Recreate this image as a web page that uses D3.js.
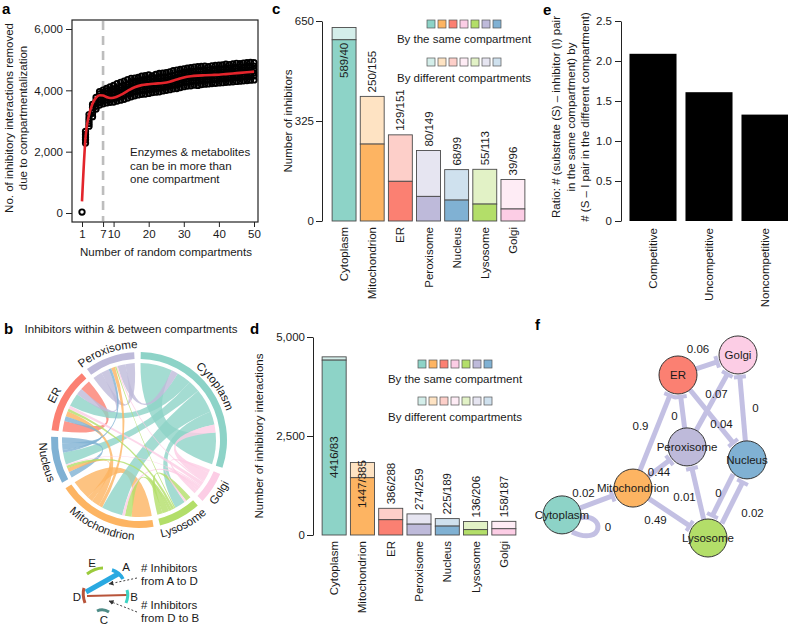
<!DOCTYPE html>
<html><head><meta charset="utf-8">
<script src="https://cdn.jsdelivr.net/npm/d3@7"></script>
<style>
body{margin:0;background:#fff;}
svg{display:block;font-family:"Liberation Sans",Arial,Helvetica,sans-serif;}
</style></head><body>
<svg id="fig" width="788" height="626"></svg>
<script>
// ================= DATA =================
const compartments = ["Cytoplasm","Mitochondrion","ER","Peroxisome","Nucleus","Lysosome","Golgi"];
const compColors = {Cytoplasm:"#8DD3C7", Mitochondrion:"#FDB462", ER:"#FB8072", Peroxisome:"#BEBADA",
                    Nucleus:"#80B1D3", Lysosome:"#B3DE69", Golgi:"#FCCDE5"};
const legendOrder = ["Cytoplasm","Mitochondrion","ER","Golgi","Lysosome","Peroxisome","Nucleus"];

// panel a
const randomCompartments = [1,2,3,4,5,6,7,8,9,10,11,12,13,14,15,16,17,18,19,20,21,22,23,24,25,
                            26,27,28,29,30,31,32,33,34,35,36,37,38,39,40,41,42,43,44,45,46,47,48,49,50];
const removedInteractions = [
 [30],
 [2280,2390,2470,2560,2660],
 [2830,2920,3010,3100,3210],
 [3140,3250,3350,3440,3540],
 [3390,3480,3570,3660,3770],
 [3520,3610,3700,3790,3880,3960],
 [3560,3660,3750,3840,3930,4010],
 [3590,3690,3790,3880,3980,4060],
 [3610,3720,3820,3910,4010,4110],
 [3620,3740,3840,3940,4050,4160],
 [3650,3770,3870,3970,4080,4220],
 [3680,3800,3900,4010,4120,4260],
 [3710,3840,3950,4050,4160,4300],
 [3750,3880,3990,4100,4210,4350],
 [3790,3910,4030,4140,4250,4390],
 [3820,3950,4060,4170,4280,4400],
 [3850,3980,4090,4200,4310,4420],
 [3870,4000,4110,4220,4330,4460],
 [3880,4010,4130,4240,4350,4480],
 [3900,4030,4150,4260,4370,4500],
 [3930,4050,4160,4270,4380,4470],
 [3940,4060,4170,4280,4400,4520],
 [3950,4080,4190,4290,4410,4550],
 [3980,4100,4200,4310,4420,4560],
 [4000,4120,4230,4330,4440,4580],
 [4020,4140,4250,4350,4460,4600],
 [4050,4170,4280,4380,4490,4640],
 [4060,4190,4300,4410,4520,4660],
 [4090,4220,4330,4440,4550,4680],
 [4120,4250,4360,4470,4580,4700],
 [4140,4270,4380,4490,4600,4720],
 [4150,4290,4400,4500,4610,4740],
 [4170,4300,4410,4510,4620,4760],
 [4160,4310,4420,4520,4630,4770],
 [4190,4320,4430,4530,4640,4780],
 [4200,4330,4440,4540,4650,4790],
 [4210,4340,4450,4550,4660,4770],
 [4220,4350,4460,4560,4670,4800],
 [4230,4360,4470,4570,4680,4810],
 [4240,4370,4470,4580,4690,4820],
 [4250,4380,4480,4590,4700,4830],
 [4260,4390,4490,4600,4710,4850],
 [4270,4400,4500,4610,4720,4840],
 [4280,4410,4510,4620,4730,4860],
 [4290,4420,4520,4630,4740,4880],
 [4300,4430,4530,4640,4750,4870],
 [4310,4440,4540,4650,4760,4890],
 [4320,4450,4550,4660,4770,4900],
 [4330,4460,4560,4670,4780,4910],
 [4340,4470,4570,4680,4790,4900]
];
const smoothX = [1,2,3,4,5,6,7,8,9,10,12,14,16,18,20,22,24,26,28,30,32,34,36,38,40,42,44,46,48,50];
const smoothY = [380,2450,3200,3560,3760,3840,3830,3780,3750,3760,3850,3980,4100,4170,4200,4220,4240,4280,4350,4420,4460,4480,4490,4500,4510,4530,4550,4570,4590,4610];
const chosenCompartments = 7;
const aXTicks = [1,7,10,20,30,40,50];
const aYTicks = [0,2000,4000,6000];

// panel c
const inhibitorsSame = [589,250,129,80,68,55,39];
const inhibitorsDiff = [40,155,151,149,99,113,96];
const cTicks = [0,325,650];
// panel d
const interactionsSame = [4416,1447,386,274,225,136,158];
const interactionsDiff = [83,385,288,259,189,206,187];
const dTicks = [0,2500,5000];
// panel e
const inhibitionTypes = ["Competitive","Uncompetitive","Noncompetitive"];
const sameDiffRatio = [2.09,1.61,1.33];
const eTicks = [0,0.5,1,1.5,2,2.5];
// panel b (rows = inhibitor compartment, cols = target compartment)
const chordOrder = ["Cytoplasm","Golgi","Lysosome","Mitochondrion","Nucleus","ER","Peroxisome"];
const chordMatrix = [
 [240,30,50,90,45,55,25],
 [35,25,10,10,5,15,5],
 [40,8,40,25,12,10,5],
 [80,10,25,150,20,30,15],
 [45,5,10,15,45,25,10],
 [50,12,10,20,18,80,25],
 [30,5,5,15,10,30,70]
];
// panel f
const netNodes = ["Golgi","ER","Peroxisome","Nucleus","Mitochondrion","Cytoplasm","Lysosome"];
const netEdges = [
 ["Mitochondrion","ER",0.9],
 ["Peroxisome","ER",0],
 ["ER","Golgi",0.06],
 ["Peroxisome","Golgi",0.07],
 ["ER","Nucleus",0.04],
 ["Nucleus","Golgi",0],
 ["Mitochondrion","Peroxisome",0.44],
 ["Cytoplasm","Mitochondrion",0.02],
 ["Cytoplasm","Cytoplasm",0],
 ["Mitochondrion","Lysosome",0.49],
 ["Lysosome","Peroxisome",0.01],
 ["Nucleus","Lysosome",0],
 ["Lysosome","Nucleus",0.02]
];
// layout of the network (normalised 0-1 positions) and label offsets (px)
const netLayout = {Golgi:[0.825,0.068], ER:[0.575,0.159], Peroxisome:[0.6125,0.486], Nucleus:[0.8625,0.545],
                   Mitochondrion:[0.3875,0.673], Cytoplasm:[0.0917,0.795], Lysosome:[0.70,0.9]};
const netLabelOffsets = [[-15,-6],[-8,5],[-10,-16],[4,-7],[9,7],[13,1],[-1,5],[-14,-8],[0,0],[-15,7],[-13,5],[-9,-6],[25,14]];

// ================= DRAW =================
const svg = d3.select("#fig");
const FS = 11.5;
const INK = "#1a1a1a";
const light = c => d3.interpolateRgb(c, "#ffffff")(0.62);

function styleAxis(g){
  g.attr("font-size", FS).attr("font-family", null);
  g.selectAll(".tick line").attr("stroke", "#222");
  g.select(".domain").attr("stroke", "#222");
  g.selectAll(".tick text").attr("fill", INK);
}
function panelLabel(t, x, y){
  svg.append("text").attr("x", x).attr("y", y).attr("font-size", 15).attr("font-weight", "bold").attr("fill","#000").text(t);
}
function vText(g, str, x, y, opts={}){
  return g.append("text").attr("transform", `translate(${x},${y}) rotate(-90)`)
    .attr("text-anchor", opts.anchor || "middle").attr("dominant-baseline", "central")
    .attr("font-size", opts.fs || FS).attr("fill", INK).text(str);
}

// ---------- panel a ----------
(function(){
  const g = svg.append("g");
  const x = d3.scaleLinear().domain([1,50]).range([82,254]);
  const y = d3.scaleLinear().domain([0,6000]).range([213,29]);
  g.append("line").attr("x1", x(chosenCompartments)).attr("x2", x(chosenCompartments))
    .attr("y1", 21).attr("y2", 221).attr("stroke", "#bdbdbd").attr("stroke-width", 2.6).attr("stroke-dasharray", "9,6");
  const pts = [];
  randomCompartments.forEach((c,i) => removedInteractions[i].forEach(v => pts.push([c, v])));
  g.append("g").selectAll("circle").data(pts).join("circle")
    .attr("cx", d => x(d[0])).attr("cy", d => y(d[1])).attr("r", 2.7)
    .attr("fill", "none").attr("stroke", "#000").attr("stroke-width", 1.9);
  g.append("path").datum(smoothX.map((v,i) => [v, smoothY[i]]))
    .attr("d", d3.line().x(d => x(d[0])).y(d => y(d[1])).curve(d3.curveMonotoneX))
    .attr("fill", "none").attr("stroke", "#E3242B").attr("stroke-width", 2.6);
  g.append("rect").attr("x", 72).attr("y", 20).attr("width", 186).attr("height", 202)
    .attr("fill", "none").attr("stroke", "#222").attr("stroke-width", 1.2);
  g.append("g").attr("transform", "translate(0,222)")
    .call(d3.axisBottom(x).tickValues(aXTicks).tickSize(5).tickPadding(3).tickSizeOuter(0))
    .call(a => { a.select(".domain").remove(); styleAxis(a); });
  g.append("g").attr("transform", "translate(72,0)")
    .call(d3.axisLeft(y).tickValues(aYTicks).tickFormat(d3.format(",")).tickSize(6).tickPadding(3).tickSizeOuter(0))
    .call(a => { a.select(".domain").remove(); styleAxis(a); });
  g.append("text").attr("x", 166).attr("y", 256).attr("text-anchor", "middle").attr("font-size", FS).attr("fill", INK)
    .text("Number of random compartments");
  vText(g, "No. of inhibitory interactions removed", 9, 118);
  vText(g, "due to compartmentalization", 23, 118);
  ["Enzymes & metabolites","can be in more than","one compartment"].forEach((t,i) =>
    g.append("text").attr("x", 130).attr("y", 156 + i*13.5).attr("font-size", FS).attr("fill", INK).text(t));
  panelLabel("a", 2, 14);
})();

// ---------- legend helper ----------
function legend(cx, ys1, yt1, ys2, yt2){
  const sz = 8, st = 11;
  const x0 = cx - (legendOrder.length*st - 3)/2;
  const rows = [[ys1, yt1, c => compColors[c], "By the same compartment"],
                [ys2, yt2, c => light(compColors[c]), "By different compartments"]];
  rows.forEach(([ys, yt, f, label]) => {
    svg.append("g").selectAll("rect").data(legendOrder).join("rect")
      .attr("x", (d,i) => x0 + i*st).attr("y", ys).attr("width", sz).attr("height", sz)
      .attr("fill", f).attr("stroke", "#555").attr("stroke-width", 0.7);
    svg.append("text").attr("x", cx).attr("y", yt).attr("text-anchor", "middle")
      .attr("font-size", FS).attr("fill", INK).text(label);
  });
}

// ---------- stacked bar panels c & d ----------
function stacked(o){
  const g = svg.append("g");
  const x = d3.scaleBand().domain(compartments).range(o.xr).paddingInner(0.15).paddingOuter(0.075);
  const y = d3.scaleLinear().domain([0, o.max]).range(o.yr);
  g.append("g").attr("transform", `translate(${o.axisX},0)`)
    .call(d3.axisLeft(y).tickValues(o.ticks).tickFormat(o.fmt).tickSize(6).tickPadding(2).tickSizeOuter(0))
    .call(styleAxis);
  const rows = compartments.map((c,i) => ({c, same:o.same[i], diff:o.diff[i]}));
  g.append("g").selectAll("rect").data(rows).join("rect")
    .attr("x", d => x(d.c)).attr("width", x.bandwidth())
    .attr("y", d => y(d.same + d.diff)).attr("height", d => y(d.same) - y(d.same + d.diff))
    .attr("fill", d => light(compColors[d.c])).attr("stroke", "#4a4a4a").attr("stroke-width", 0.9);
  g.append("g").selectAll("rect").data(rows).join("rect")
    .attr("x", d => x(d.c)).attr("width", x.bandwidth())
    .attr("y", d => y(d.same)).attr("height", d => y(0) - y(d.same))
    .attr("fill", d => compColors[d.c]).attr("stroke", "#4a4a4a").attr("stroke-width", 0.9);
  rows.forEach(d => {
    const base = o.labelAt[d.c] !== undefined ? y(o.labelAt[d.c]) : y(d.same + d.diff) - 4;
    vText(g, `${d.same}/${d.diff}`, x(d.c) + x.bandwidth()/2, base, {anchor:"start"});
    vText(g, d.c, x(d.c) + x.bandwidth()/2, o.yr[0] + 6, {anchor:"end"});
  });
  vText(g, o.title, o.titleX, (o.yr[0] + o.yr[1])/2);
}
stacked({xr:[330,527], yr:[221,21], max:650, axisX:322, ticks:cTicks, fmt:d3.format("d"),
         same:inhibitorsSame, diff:inhibitorsDiff, labelAt:{Cytoplasm:465},
         title:"Number of inhibitors", titleX:288});
legend(464, 20, 43, 58, 82);
panelLabel("c", 272, 14);

stacked({xr:[320,518], yr:[535,337], max:5000, axisX:313, ticks:dTicks, fmt:d3.format(","),
         same:interactionsSame, diff:interactionsDiff, labelAt:{Cytoplasm:1440, Mitochondrion:680},
         title:"Number of inhibitory interactions", titleX:259});
legend(455, 360, 383, 397, 421);
panelLabel("d", 250, 334);

// ---------- panel e ----------
(function(){
  const g = svg.append("g");
  const x = d3.scaleBand().domain(inhibitionTypes).range([625,793]).paddingInner(0.16).paddingOuter(0.08);
  const y = d3.scaleLinear().domain([0,2.5]).range([221,21]);
  g.append("g").attr("transform", "translate(621,0)")
    .call(d3.axisLeft(y).tickValues(eTicks).tickFormat(d => d === 0 ? "0" : d3.format(".1f")(d)).tickSize(6).tickPadding(3).tickSizeOuter(0))
    .call(styleAxis);
  g.append("g").selectAll("rect").data(inhibitionTypes).join("rect")
    .attr("x", d => x(d)).attr("width", x.bandwidth())
    .attr("y", (d,i) => y(sameDiffRatio[i])).attr("height", (d,i) => y(0) - y(sameDiffRatio[i]))
    .attr("fill", "#000");
  inhibitionTypes.forEach(d => vText(g, d, x(d) + x.bandwidth()/2, 228, {anchor:"end"}));
  ["Ratio: # (substrate (S) \u2013 inhibitor (I) pair","in the same compartment) by","# (S \u2013 I pair in the different compartment)"]
    .forEach((t,i) => vText(g, t, 556 + i*14.5, 117));
  panelLabel("e", 543, 15);
})();

// ---------- panel b (chord) ----------
(function(){
  const cx = 139, cy = 440, rO = 88, rI = 81, rC = 77;
  const g = svg.append("g").attr("transform", `translate(${cx},${cy})`);
  const n = chordOrder.length, padA = 0.075;
  const total = d3.sum(chordMatrix, r => d3.sum(r));
  const k = (2*Math.PI - padA*n) / total;
  let ang = 0.02;
  const groups = [], ends = chordOrder.map(() => ({}));
  for (let i = 0; i < n; i++){
    const a0 = ang;
    const seq = [["selfA", chordMatrix[i][i]/2]];
    for (let s = 1; s < n; s++){ const j = (i - s + n) % n; seq.push([j, chordMatrix[i][j]]); }
    seq.push(["selfB", chordMatrix[i][i]/2]);
    seq.forEach(([key, v]) => { const st = ang; ang += v*k; ends[i][key] = {index:i, startAngle:st, endAngle:ang, value:v}; });
    groups.push({index:i, startAngle:a0, endAngle:ang});
    ang += padA;
  }
  const chords = [];
  for (let i = 0; i < n; i++){
    chords.push({source:ends[i].selfA, target:ends[i].selfB, v:chordMatrix[i][i]});
    for (let j = i+1; j < n; j++){
      const a = ends[i][j], b = ends[j][i];
      chords.push(a.value >= b.value ? {source:a, target:b, v:a.value} : {source:b, target:a, v:b.value});
    }
  }
  chords.sort((a,b) => b.v - a.v);
  const ribbon = d3.ribbon().radius(rC);
  g.append("g").selectAll("path").data(chords).join("path")
    .attr("d", ribbon).attr("fill", d => compColors[chordOrder[d.source.index]]).attr("fill-opacity", 0.8);
  const arc = d3.arc().innerRadius(rI).outerRadius(rO);
  g.append("g").selectAll("path").data(groups).join("path")
    .attr("d", arc).attr("fill", d => compColors[chordOrder[d.index]]);
  const p = (a, r) => `${(r*Math.sin(a)).toFixed(2)},${(-r*Math.cos(a)).toFixed(2)}`;
  const defs = svg.append("defs");
  groups.forEach((gr, i) => {
    const a = (gr.startAngle + gr.endAngle)/2;
    const top = Math.cos(a) > 0;
    const id = "lbl" + i;
    const d = top ? `M${p(a-1.3, rO+4)} A${rO+4},${rO+4} 0 0 1 ${p(a+1.3, rO+4)}`
                  : `M${p(a+1.3, rO+12)} A${rO+12},${rO+12} 0 0 0 ${p(a-1.3, rO+12)}`;
    defs.append("path").attr("id", id).attr("d", d).attr("transform", `translate(${cx},${cy})`);
    svg.append("text").attr("font-size", FS).attr("fill", INK)
      .append("textPath").attr("href", "#" + id).attr("startOffset", "50%").attr("text-anchor", "middle")
      .text(chordOrder[i]);
  });
  svg.append("text").attr("x", 131).attr("y", 333).attr("text-anchor", "middle").attr("font-size", FS).attr("fill", INK)
    .text("Inhibitors within & between compartments");
  panelLabel("b", 4, 334);

  // schematic key
  const k2 = svg.append("g");
  const stroke = (d, c, w) => k2.append("path").attr("d", d).attr("fill", "none").attr("stroke", c).attr("stroke-width", w);
  stroke("M87,574 Q95,568 103,568", "#9BCB3C", 3);
  stroke("M86,592 L118,574", "#29A9E1", 5);
  stroke("M112,570 Q119,572 123,579", "#29A9E1", 3.5);
  stroke("M87,596 L127,595", "#B8543A", 2);
  stroke("M84,588 Q82,595 85,603", "#B8543A", 3);
  stroke("M127,590 Q129,596 126,603", "#3CD3C3", 3);
  stroke("M97,611 Q103,608 109,612", "#4E8C87", 3);
  [["E",92,563],["A",126,567],["D",77,597],["B",134,597],["C",104,620]].forEach(([t,x,y]) =>
    k2.append("text").attr("x", x).attr("y", y).attr("text-anchor", "middle").attr("dominant-baseline", "central")
      .attr("font-size", FS).attr("fill", INK).text(t));
  [["# Inhibitors",572],["from A to D",585],["# Inhibitors",609],["from D to B",622]].forEach(([t,y]) =>
    k2.append("text").attr("x", 141).attr("y", y).attr("font-size", FS).attr("fill", INK).text(t));
  defs.append("marker").attr("id", "arr").attr("viewBox", "0 0 10 10").attr("refX", 9).attr("refY", 5)
    .attr("markerWidth", 5).attr("markerHeight", 5).attr("orient", "auto")
    .append("path").attr("d", "M0,0 L10,5 L0,10 z").attr("fill", "#333");
  [[137,578,109,584],[137,612,109,601]].forEach(([x1,y1,x2,y2]) =>
    k2.append("line").attr("x1", x1).attr("y1", y1).attr("x2", x2).attr("y2", y2)
      .attr("stroke", "#444").attr("stroke-width", 1).attr("stroke-dasharray", "2,2").attr("marker-end", "url(#arr)"));
})();

// ---------- panel f (network) ----------
(function(){
  const g = svg.append("g");
  const sx = d3.scaleLinear().domain([0,1]).range([540,780]);
  const sy = d3.scaleLinear().domain([0,1]).range([340,560]);
  const pos = {};
  netNodes.forEach(nm => pos[nm] = [sx(netLayout[nm][0]), sy(netLayout[nm][1])]);
  const R = 19, EC = "#C3C0E3";
  const eg = g.append("g");
  netEdges.forEach(([s, t, w], i) => {
    const [x1, y1] = pos[s], [x2, y2] = pos[t];
    if (s === t){
      eg.append("path").attr("d", `M${x1+18},${y1+3} C${x1+44},${y1-2} ${x1+42},${y1+32} ${x1+10},${y1+17}`)
        .attr("fill", "none").attr("stroke", EC).attr("stroke-width", 5);
    } else {
      const L = Math.hypot(x2-x1, y2-y1), ux = (x2-x1)/L, uy = (y2-y1)/L;
      const nx = -uy, ny = ux;
      const paired = netEdges.some(e => e[0] === t && e[1] === s);
      const off = paired ? 6 : 0;
      const ax = x1 + ux*R + nx*off, ay = y1 + uy*R + ny*off;
      const bx = x2 - ux*(R+3) + nx*off, by = y2 - uy*(R+3) + ny*off;
      eg.append("line").attr("x1", ax).attr("y1", ay).attr("x2", bx).attr("y2", by)
        .attr("stroke", EC).attr("stroke-width", 5);
      eg.append("line").attr("x1", bx + nx*6).attr("y1", by + ny*6).attr("x2", bx - nx*6).attr("y2", by - ny*6)
        .attr("stroke", EC).attr("stroke-width", 4);
    }
  });
  g.append("g").selectAll("circle").data(netNodes).join("circle")
    .attr("cx", d => pos[d][0]).attr("cy", d => pos[d][1]).attr("r", R)
    .attr("fill", d => compColors[d]).attr("stroke", "#333").attr("stroke-width", 1);
  g.append("g").selectAll("text").data(netNodes).join("text")
    .attr("x", d => pos[d][0]).attr("y", d => pos[d][1]).attr("text-anchor", "middle").attr("dominant-baseline", "central")
    .attr("font-size", FS).attr("fill", INK).text(d => d);
  netEdges.forEach(([s, t, w], i) => {
    let mx, my;
    if (s === t){ mx = pos[s][0] + 46; my = pos[s][1] + 12; }
    else { mx = (pos[s][0] + pos[t][0])/2 + netLabelOffsets[i][0]; my = (pos[s][1] + pos[t][1])/2 + netLabelOffsets[i][1]; }
    g.append("text").attr("x", mx).attr("y", my).attr("text-anchor", "middle").attr("dominant-baseline", "central")
      .attr("font-size", FS).attr("fill", INK).text(String(w));
  });
  panelLabel("f", 535, 330);
})();
</script>
</body></html>
